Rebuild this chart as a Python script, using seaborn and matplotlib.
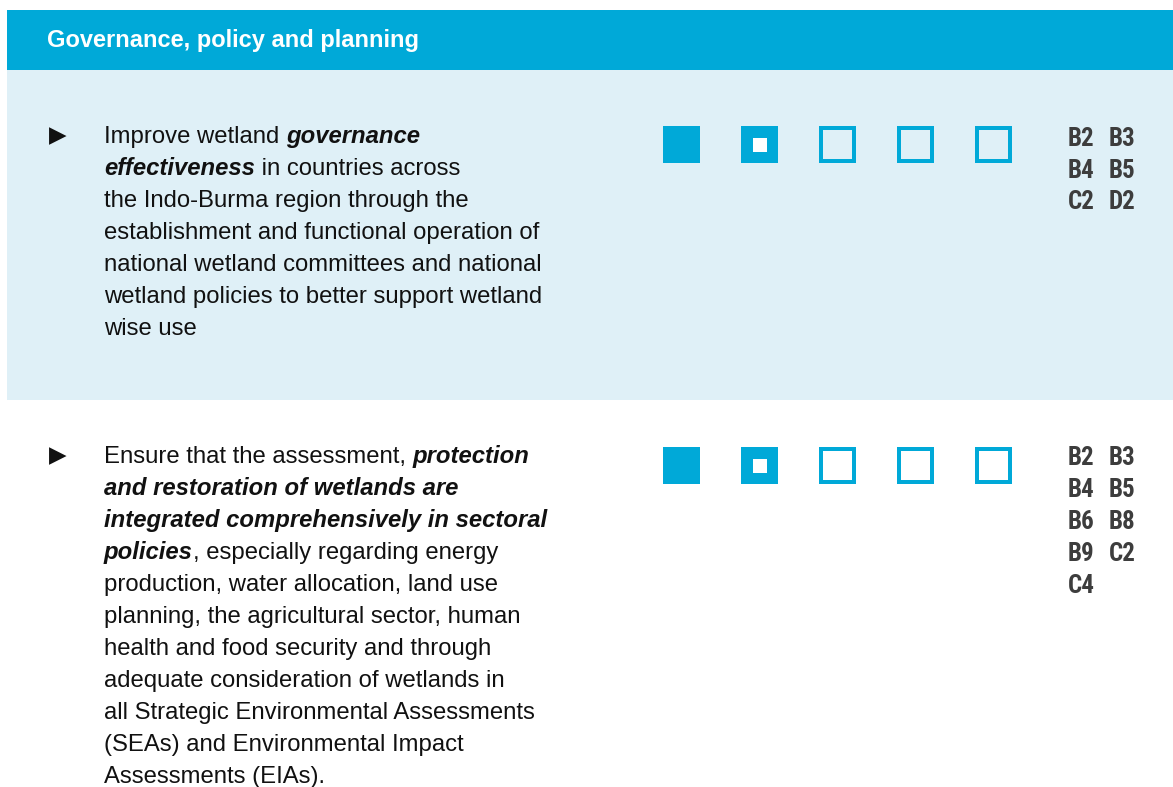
import matplotlib
matplotlib.use("Agg")
import matplotlib.pyplot as plt
import matplotlib.font_manager as fm
from matplotlib.patches import Rectangle
import seaborn as sns

# Datos de la tabla
titulo = "Governance, policy and planning"

# Cada línea es una lista de (texto, es_negrita_cursiva)
texto_fila1 = [
    [("Improve wetland ", False), ("governance", True)],
    [("effectiveness", True), (" in countries across", False)],
    [("the Indo-Burma region through the", False)],
    [("establishment and functional operation of", False)],
    [("national wetland committees and national", False)],
    [("wetland policies to better support wetland", False)],
    [("wise use", False)],
]
texto_fila2 = [
    [("Ensure that the assessment, ", False), ("protection", True)],
    [("and restoration of wetlands are", True)],
    [("integrated comprehensively in sectoral", True)],
    [("policies", True), (", especially regarding energy", False)],
    [("production, water allocation, land use", False)],
    [("planning, the agricultural sector, human", False)],
    [("health and food security and through", False)],
    [("adequate consideration of wetlands in", False)],
    [("all Strategic Environmental Assessments", False)],
    [("(SEAs) and Environmental Impact", False)],
    [("Assessments (EIAs).", False)],
]

# 2 = lleno, 1 = parcial, 0 = vacío
niveles_fila1 = [2, 1, 0, 0, 0]
niveles_fila2 = [2, 1, 0, 0, 0]

codigos_fila1 = ["B2", "B3", "B4", "B5", "C2", "D2"]
codigos_fila2 = ["B2", "B3", "B4", "B5", "B6", "B8", "B9", "C2", "C4"]

# Colores
azul = "#00a9d8"
azul_claro = "#dff0f7"
gris = "#3d3d3d"
negro = "#111111"

sns.set_theme(style="white")
plt.rcParams["font.family"] = ["Liberation Sans", "DejaVu Sans"]

instaladas = {f.name for f in fm.fontManager.ttflist}
fuente_codigos = "Liberation Sans"
for nombre in ["Roboto Condensed", "Liberation Sans Narrow", "DejaVu Sans Condensed"]:
    if nombre in instaladas:
        fuente_codigos = nombre
        break

fig = plt.figure(figsize=(11.73, 7.87), dpi=100)
ax = fig.add_axes([0, 0, 1, 1])
ax.set_xlim(0, 1173)
ax.set_ylim(787, 0)
ax.axis("off")

# Cabecera y panel
ax.add_patch(Rectangle((7, 10), 1166, 60, color=azul, lw=0))
ax.add_patch(Rectangle((7, 70), 1166, 330, color=azul_claro, lw=0))
ax.text(47, 47, titulo, color="white", fontsize=17, fontweight="bold", va="baseline")

renderer = fig.canvas.get_renderer()
tam_texto = 17.2


def escribir_parrafo(lineas, y0, paso=32):
    for k, linea in enumerate(lineas):
        x = 104
        y = y0 + k * paso
        for trozo, resaltado in linea:
            t = ax.text(
                x, y, trozo, fontsize=tam_texto, color=negro, va="baseline",
                fontweight="bold" if resaltado else "normal",
                fontstyle="italic" if resaltado else "normal",
            )
            bb = t.get_window_extent(renderer=renderer)
            # ancho en píxeles == unidades de datos aquí
            x += bb.width
    ax.text(57.5, y0 - 7.5, "\u25b6", fontsize=16.5, color=negro, va="center",
            ha="center", family="DejaVu Sans")


def dibujar_niveles(niveles, y_top, lado=37, paso=78):
    for i, nivel in enumerate(niveles):
        x = 663 + i * paso
        if nivel == 2:
            ax.add_patch(Rectangle((x, y_top), lado, lado, color=azul, lw=0))
        elif nivel == 1:
            ax.add_patch(Rectangle((x, y_top), lado, lado, color=azul, lw=0))
            c = 14
            ax.add_patch(Rectangle((x + (lado - c) / 2, y_top + (lado - c) / 2), c, c,
                                   color="white", lw=0))
        else:
            g = 4
            ax.add_patch(Rectangle((x + g / 2, y_top + g / 2), lado - g, lado - g,
                                   facecolor="none", edgecolor=azul, lw=g * 0.72))


def escribir_codigos(codigos, y0, paso=32):
    for j, cod in enumerate(codigos):
        fila, col = divmod(j, 2)
        ax.text(1068 + col * 41, y0 + fila * paso, cod, fontsize=18,
                fontweight="bold", color=gris, va="baseline", family=fuente_codigos)


escribir_parrafo(texto_fila1, 143)
dibujar_niveles(niveles_fila1, 126)
escribir_codigos(codigos_fila1, 146, paso=31.5)

escribir_parrafo(texto_fila2, 463)
dibujar_niveles(niveles_fila2, 447)
escribir_codigos(codigos_fila2, 465)

fig.savefig("out.png", dpi=100)
